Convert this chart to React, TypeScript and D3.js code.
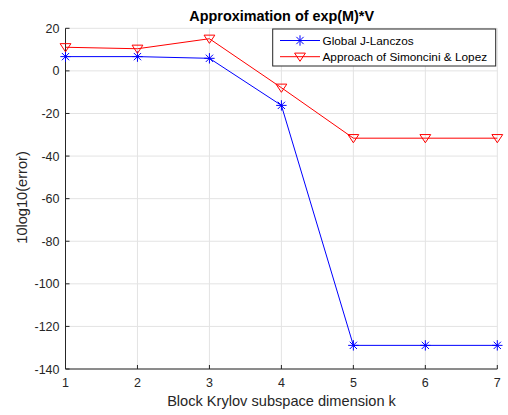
import React from "react";
import * as d3 from "d3";

const kValues = [1, 2, 3, 4, 5, 6, 7];
const globalJLanczos = [6.7, 6.7, 5.9, -16.2, -128.9, -128.9, -128.9];
const simonciniLopez = [11.1, 10.4, 15.1, -7.9, -31.6, -31.6, -31.6];
const xTicks = [1, 2, 3, 4, 5, 6, 7];
const yTicks = [20, 0, -20, -40, -60, -80, -100, -120, -140];
const seriesNames = ["Global J-Lanczos", "Approach of Simoncini & Lopez"];

const W = 508, H = 415;
const left = 65.5, right = 497.3, top = 28.3, bottom = 369;
const font = "'Liberation Sans', Arial, Helvetica, sans-serif";
const axisColor = "#262626";

export default function App() {
  const x = d3.scaleLinear().domain([1, 7]).range([left, right]);
  const y = d3.scaleLinear().domain([-140, 20]).range([bottom, top]);
  const line = d3.line<number>().x((_, i) => x(kValues[i])).y(d => y(d));

  const star = (cx: number, cy: number, key: string) => {
    const r = 5.2, d = r * 0.7;
    return (
      <g key={key} stroke="#0000ff" strokeWidth={1}>
        <line x1={cx - r} y1={cy} x2={cx + r} y2={cy} />
        <line x1={cx} y1={cy - r} x2={cx} y2={cy + r} />
        <line x1={cx - d} y1={cy - d} x2={cx + d} y2={cy + d} />
        <line x1={cx - d} y1={cy + d} x2={cx + d} y2={cy - d} />
      </g>
    );
  };
  const tri = (cx: number, cy: number, key: string) => {
    const hw = 5.4;
    const pts = `${cx - hw},${cy - 3.6} ${cx + hw},${cy - 3.6} ${cx},${cy + 4.6}`;
    return <polygon key={key} points={pts} fill="none" stroke="#ff0000" strokeWidth={1} />;
  };

  const lg = { x0: 272.7, x1: 495.7, y0: 29, y1: 66 };
  const rows = [40.5, 56.7];

  return (
    <svg width={W} height={H} style={{ position: "absolute", left: 0, top: 0, background: "#fff" }} fontFamily={font}>
      <rect x={0} y={0} width={W} height={H} fill="#fff" />
      {/* grid */}
      {xTicks.map(t => (
        <line key={"gx" + t} x1={x(t)} x2={x(t)} y1={top} y2={bottom} stroke="#e3e3e3" strokeWidth={1} />
      ))}
      {yTicks.map(t => (
        <line key={"gy" + t} x1={left} x2={right} y1={y(t)} y2={y(t)} stroke="#e3e3e3" strokeWidth={1} />
      ))}
      {/* axes */}
      <line x1={left} x2={right} y1={bottom} y2={bottom} stroke={axisColor} strokeWidth={1} />
      <line x1={left} x2={left} y1={top} y2={bottom} stroke={axisColor} strokeWidth={1} />
      {xTicks.map(t => (
        <g key={"tx" + t}>
          <line x1={x(t)} x2={x(t)} y1={bottom} y2={bottom - 4} stroke={axisColor} />
          <text x={x(t)} y={387} textAnchor="middle" fontSize={12.5} fill={axisColor}>{t}</text>
        </g>
      ))}
      {yTicks.map(t => (
        <g key={"ty" + t}>
          <line x1={left} x2={left + 4} y1={y(t)} y2={y(t)} stroke={axisColor} />
          <text x={59.5} y={y(t) + 4.5} textAnchor="end" fontSize={12.5} fill={axisColor}>{t}</text>
        </g>
      ))}
      {/* series */}
      <path d={line(globalJLanczos) || ""} fill="none" stroke="#0000ff" strokeWidth={1} />
      <path d={line(simonciniLopez) || ""} fill="none" stroke="#ff0000" strokeWidth={1} />
      {globalJLanczos.map((v, i) => star(x(kValues[i]), y(v), "s" + i))}
      {simonciniLopez.map((v, i) => tri(x(kValues[i]), y(v), "t" + i))}
      {/* title and labels */}
      <text x={281.7} y={21} textAnchor="middle" fontSize={14.4} fontWeight="bold" fill="#000">Approximation of exp(M)*V</text>
      <text x={281.5} y={406} textAnchor="middle" fontSize={14.6} fill={axisColor}>Block Krylov subspace dimension k</text>
      <text transform={`translate(27,${197.5}) rotate(-90)`} textAnchor="middle" fontSize={14.6} fill={axisColor}>10log10(error)</text>
      {/* legend */}
      <rect x={lg.x0} y={lg.y0} width={lg.x1 - lg.x0} height={lg.y1 - lg.y0} fill="#fff" stroke={axisColor} strokeWidth={1} />
      <line x1={280} x2={320} y1={rows[0]} y2={rows[0]} stroke="#0000ff" />
      {star(300, rows[0], "ls")}
      <text x={322.5} y={rows[0] + 4.3} fontSize={11.8} fill="#000">{seriesNames[0]}</text>
      <line x1={280} x2={320} y1={rows[1]} y2={rows[1]} stroke="#ff0000" />
      {tri(300, rows[1], "lt")}
      <text x={322.5} y={rows[1] + 4.3} fontSize={11.8} fill="#000">{seriesNames[1]}</text>
    </svg>
  );
}
